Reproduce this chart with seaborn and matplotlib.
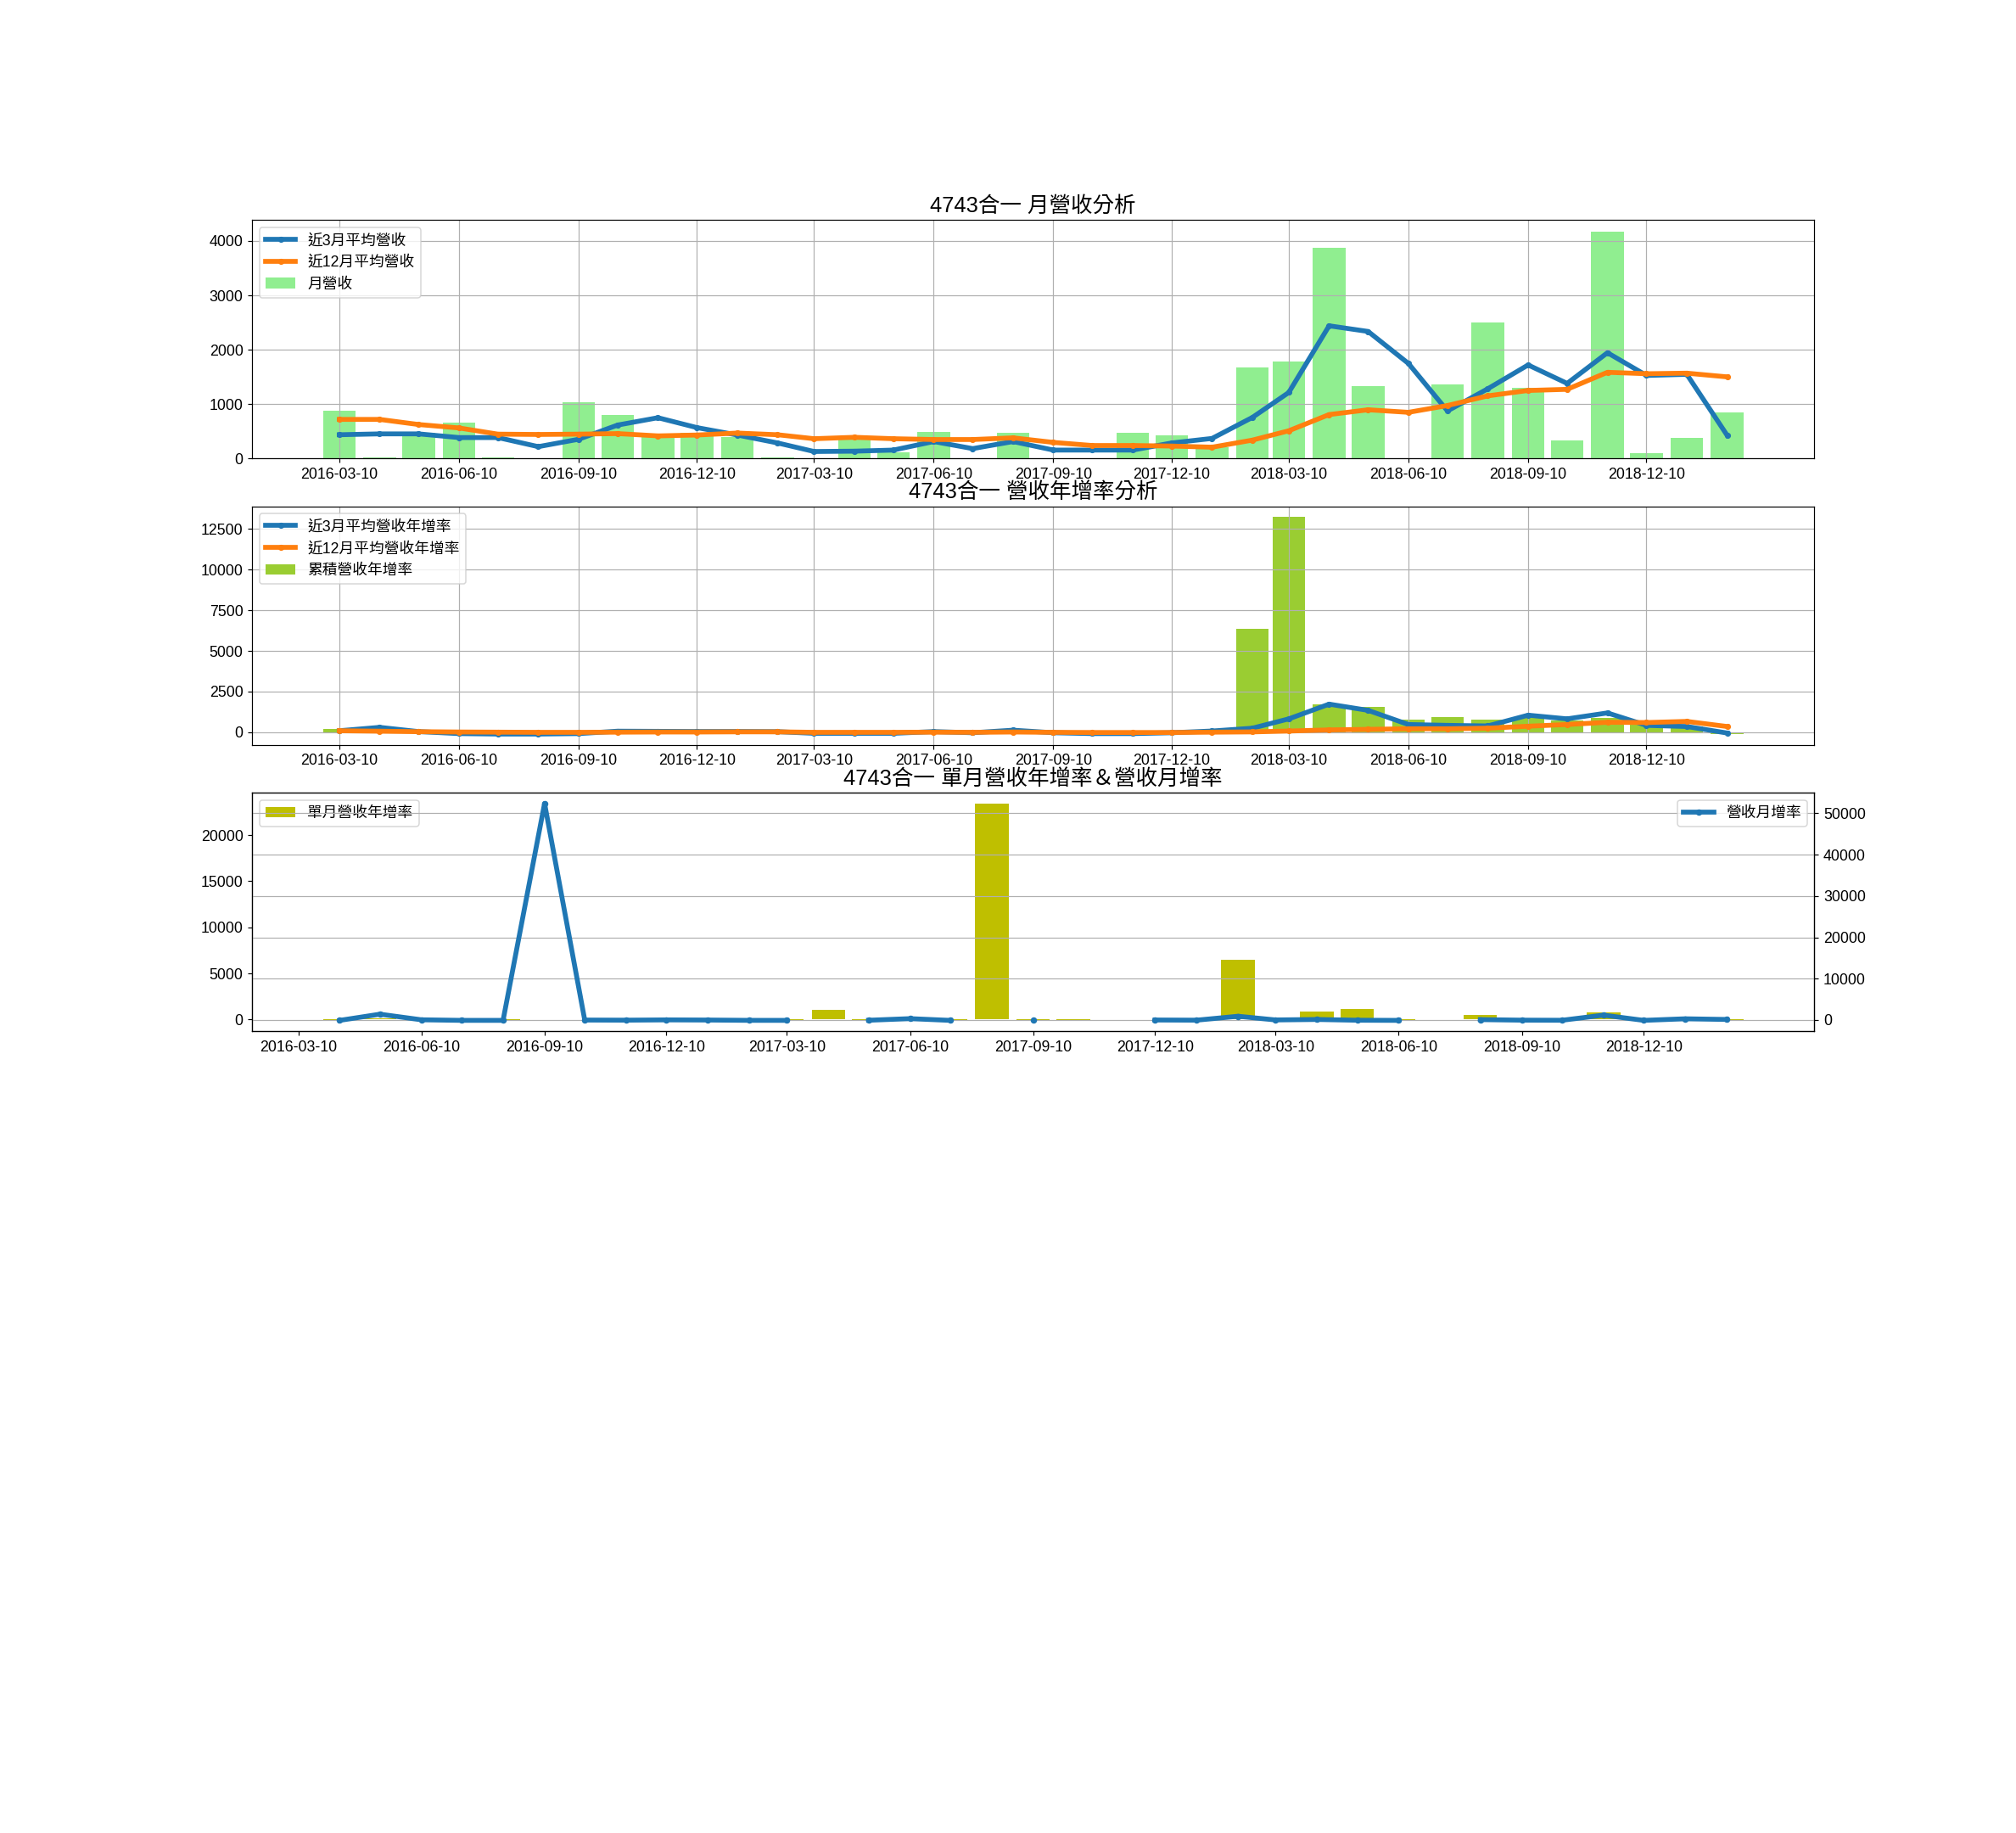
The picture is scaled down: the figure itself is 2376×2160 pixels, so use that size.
import numpy as np
import pandas as pd
import matplotlib
matplotlib.use('Agg')
import matplotlib.pyplot as plt
import seaborn as sns

plt.rcParams['font.family'] = ['Liberation Sans', 'Noto Sans CJK TC']
plt.rcParams['font.size'] = 11.8
plt.rcParams['axes.unicode_minus'] = False

stock = '4743合一'
nan = np.nan

# monthly dates (10th of each month), 2016-03 .. 2019-02
months = pd.date_range('2016-03-10', periods=36, freq=pd.DateOffset(months=1))

# 1. monthly revenue
revenue = [876, 25, 470, 657, 15, 2, 1043, 798, 407, 480, 396, 15,
           0, 380, 115, 485, 0, 470, 0, 0, 470, 423, 209, 1680,
           1784, 3881, 1330, 0, 1362, 2504, 1299, 329, 4178, 99, 381, 845]
rev_3m = [438, 454, 454, 386, 386, 219, 355, 616, 751, 569, 433, 287,
          130, 136, 156, 313, 183, 313, 156, 156, 156, 287, 370, 756,
          1215, 2441, 2337, 1748, 876, 1283, 1721, 1382, 1946, 1528, 1549, 428]
rev_12m = [720, 720, 626, 563, 449, 443, 449, 459, 417, 433, 469, 438,
           365, 391, 365, 350, 350, 381, 297, 240, 240, 230, 209, 339,
           511, 809, 897, 850, 975, 1153, 1252, 1273, 1586, 1560, 1570, 1502]

# 2. yoy growth (%)
cum_yoy = [174, 10, -20, -30, -40, -45, -30, -20, -25, -20, 15, 10,
           -50, -40, -60, -50, -55, -45, -50, -55, -50, -48, -60, 6340,
           13230, 1706, 1532, 749, 905, 749, 870, 731, 870, 609, 348, -116]
yoy_3m = [87, 296, 35, -87, -116, -116, -87, 60, 50, 40, 40, 30,
          -70, -70, -70, 35, -35, 122, -35, -87, -87, -35, 70, 244,
          818, 1724, 1341, 470, 418, 383, 1045, 818, 1184, 418, 348, -52]
yoy_12m = [87, 60, 30, 10, 0, -10, -10, 0, 10, 10, 20, 20,
           -10, -10, -10, 0, -10, 10, -10, -20, -20, -20, 0, 17,
           70, 139, 174, 209, 209, 244, 366, 470, 609, 592, 662, 348]

# 3. single month yoy / mom (%), from 2016-04
months_3 = months[1:]
single_yoy = [-40, 150, nan, nan, -100, nan, nan, nan, nan, nan, nan,
              -100, 1073, -76, -26, -100, 23436, -100, -100, 15, -12, -47,
              6442, nan, 890, 1150, -100, nan, 460, nan, nan, 798, -77, 82, -50]
mom = [-97, 1400, 40, -98, -100, 52400, -23, -49, 18, -18, -96,
       -100, nan, -70, 322, -100, nan, -100, nan, nan, -10, -51,
       900, 6, 118, -66, -100, nan, 84, -48, -75, 1170, -98, 285, 122]

blue = '#1f77b4'
orange = '#ff7f0e'
line_kw = dict(linewidth=3.8, marker='o', markersize=4, errorbar=None)

fig = plt.figure(figsize=(22, 20), dpi=108)
gs = fig.add_gridspec(5, 1, top=0.88, bottom=0.125, hspace=0.2)
ax1 = fig.add_subplot(gs[0])
ax2 = fig.add_subplot(gs[1])
ax3 = fig.add_subplot(gs[2])

tick_dates = months[::3]
tick_labels = [d.strftime('%Y-%m-%d') for d in tick_dates]

# --- monthly revenue
sns.lineplot(x=months, y=rev_3m, ax=ax1, color=blue, markeredgecolor=blue,
             label='近3月平均營收', **line_kw)
sns.lineplot(x=months, y=rev_12m, ax=ax1, color=orange, markeredgecolor=orange,
             label='近12月平均營收', **line_kw)
ax1.bar(months, revenue, width=25, color='lightgreen', label='月營收')
ax1.set_title(f'{stock} 月營收分析', fontsize=17)
ax1.legend(loc='upper left')
ax1.grid(True)

# --- yoy growth
sns.lineplot(x=months, y=yoy_3m, ax=ax2, color=blue, markeredgecolor=blue,
             label='近3月平均營收年增率', **line_kw)
sns.lineplot(x=months, y=yoy_12m, ax=ax2, color=orange, markeredgecolor=orange,
             label='近12月平均營收年增率', **line_kw)
ax2.bar(months, cum_yoy, width=25, color='yellowgreen', label='累積營收年增率')
ax2.set_title(f'{stock} 營收年增率分析', fontsize=17)
ax2.legend(loc='upper left')
ax2.grid(True)

# --- single month yoy & mom (line keeps its gaps, so plain plot)
ax3.bar(months_3, single_yoy, width=25, color='y', label='單月營收年增率')
ax3.legend(loc='upper left')
ax3b = ax3.twinx()
ax3b.plot(months_3, mom, color=blue, linewidth=3.8, marker='o', markersize=4,
          label='營收月增率')
ax3b.legend(loc='upper right')
ax3b.grid(True)
ax3.set_title(f'{stock} 單月營收年增率＆營收月增率', fontsize=17)

for ax in (ax1, ax2, ax3):
    ax.set_xticks(tick_dates)
    ax.set_xticklabels(tick_labels)
    ax.set_xlabel('')
    ax.set_ylabel('')

fig.savefig('out.png', dpi=108)
